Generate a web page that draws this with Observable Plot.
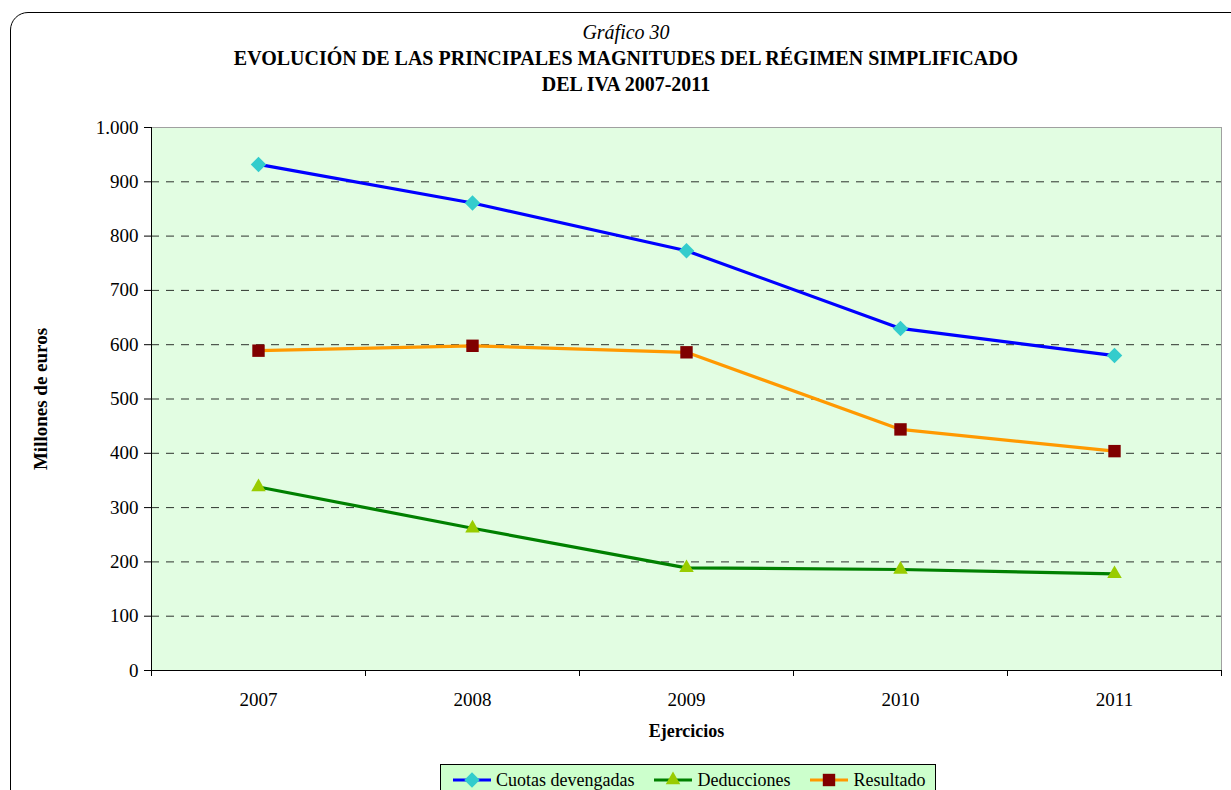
<!DOCTYPE html>
<html><head><meta charset="utf-8">
<script src="https://cdn.jsdelivr.net/npm/d3@7"></script>
<script src="https://cdn.jsdelivr.net/npm/@observablehq/plot@0.6"></script>
<style>
body{margin:0;background:#fff;}
#wrap{position:relative;width:1231px;height:790px;overflow:hidden;font-family:"Liberation Serif","Times New Roman",serif;color:#000;}
#border{position:absolute;left:10px;top:12px;width:1260px;height:820px;border:1px solid #000;border-radius:18px;box-sizing:border-box;}
.t{position:absolute;left:0;width:1252px;text-align:center;font-size:20px;line-height:26px;white-space:nowrap;}
#chart{position:absolute;left:0;top:0;}
#legend{position:absolute;left:440px;top:764px;width:496px;height:34px;border:1px solid #000;background:#ccffcc;box-sizing:border-box;display:flex;flex-wrap:nowrap;align-items:flex-start;padding-top:5px;padding-left:11px;font-size:18px;line-height:20px;white-space:nowrap;}
#legend .item{display:flex;align-items:center;margin-right:19px;flex-shrink:0;white-space:nowrap;}
#legend svg{margin-right:4px;flex-shrink:0;}
</style></head>
<body>
<div id="wrap">
  <div id="border"></div>
  <div class="t" style="top:19px;font-style:italic;">Gráfico 30</div>
  <div class="t" style="top:45px;font-weight:bold;">EVOLUCIÓN DE LAS PRINCIPALES MAGNITUDES DEL RÉGIMEN SIMPLIFICADO</div>
  <div class="t" style="top:71px;font-weight:bold;">DEL IVA 2007-2011</div>
  <div id="chart"></div>
  <div id="legend"></div>
</div>
<script>
const years = [2007, 2008, 2009, 2010, 2011];
const cuotas = [932, 861, 773, 630, 580];
const deducciones = [338, 262, 189, 186, 178];
const resultado = [589, 598, 586, 444, 404];
const seriesNames = ["Cuotas devengadas", "Deducciones", "Resultado"];
const lineColors = ["#0000ff", "#008000", "#ff9900"];
const markerColors = ["#33cccc", "#99cc00", "#800000"];
const markerSymbols = ["diamond2", "triangle", "square"];
const markerR = [7, 5.4, 7];
const yTicks = [0, 100, 200, 300, 400, 500, 600, 700, 800, 900, 1000];
const gridTicks = [100, 200, 300, 400, 500, 600, 700, 800, 900];
const xBounds = [2006.5, 2007.5, 2008.5, 2009.5, 2010.5, 2011.5];

const seriesValues = [cuotas, deducciones, resultado];
const series = seriesValues.map((vals, i) => years.map((y, j) => ({year: y, value: vals[j], series: seriesNames[i]})));

const fmt = d => d3.format(",")(d).replace(/,/g, ".");

const marks = [
  Plot.frame({fill: "#e2fde2", stroke: "#a0a0a0"}),
  Plot.ruleY(gridTicks, {stroke: "#000", strokeDasharray: "8,7", strokeOpacity: 0.8}),
  Plot.ruleY([0], {stroke: "#000"}),
  Plot.ruleX([xBounds[0]], {stroke: "#000"}),
  Plot.axisY({ticks: yTicks, tickFormat: fmt, tickSize: 7, tickPadding: 6, label: null, fontSize: 19}),
  Plot.axisX({ticks: xBounds, tickFormat: () => "", tickSize: 6, label: null}),
  Plot.axisX({ticks: years, tickFormat: d => String(d), tickSize: 0, tickPadding: 22, label: null, fontSize: 19}),
];
series.forEach((s, i) => {
  marks.push(Plot.line(s, {x: "year", y: "value", stroke: lineColors[i], strokeWidth: 3.2}));
});
series.forEach((s, i) => {
  marks.push(Plot.dot(s, {x: "year", y: "value", symbol: markerSymbols[i], fill: markerColors[i], stroke: "none", r: markerR[i]}));
});
marks.push(Plot.text(["Ejercicios"], {frameAnchor: "bottom", dy: 66, fontWeight: "bold", fontSize: 18}));
marks.push(Plot.text(["Millones de euros"], {frameAnchor: "left", dx: -111, rotate: -90, textAnchor: "middle", fontWeight: "bold", fontSize: 19}));

const chart = Plot.plot({
  width: 1231,
  height: 760,
  marginLeft: 151,
  marginRight: 10,
  marginTop: 127,
  marginBottom: 90,
  style: {fontFamily: "Liberation Serif, Times New Roman, serif", fontSize: "19px", background: "transparent", color: "#000"},
  x: {type: "linear", domain: [xBounds[0], xBounds[xBounds.length - 1]]},
  y: {domain: [0, 1000]},
  marks
});
document.getElementById("chart").appendChild(chart);

// legend
const legend = d3.select("#legend");
seriesNames.forEach((name, i) => {
  const item = legend.append("div").attr("class", "item");
  const svg = item.append("svg").attr("width", 40).attr("height", 20);
  svg.append("line").attr("x1", 1).attr("x2", 39).attr("y1", 10).attr("y2", 10).attr("stroke", lineColors[i]).attr("stroke-width", 3.2);
  const sym = {diamond2: d3.symbolDiamond2, triangle: d3.symbolTriangle, square: d3.symbolSquare}[markerSymbols[i]];
  svg.append("path").attr("transform", "translate(20,10)").attr("d", d3.symbol(sym, Math.PI * markerR[i] * markerR[i])()).attr("fill", markerColors[i]);
  item.append("span").text(name);
});
</script>
</body></html>
